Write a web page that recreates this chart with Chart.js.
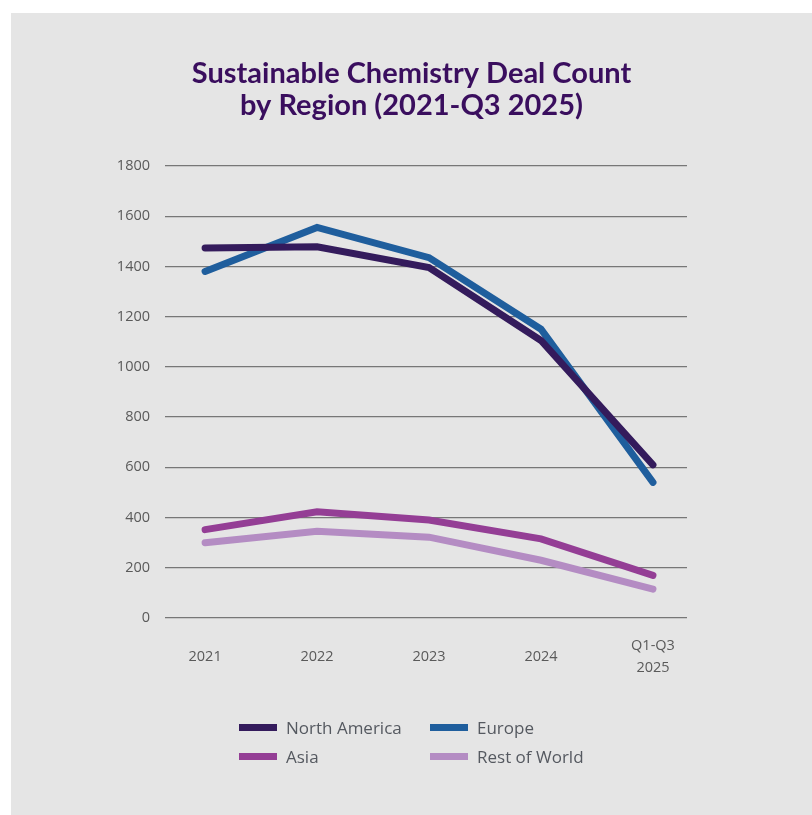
<!DOCTYPE html>
<html>
<head>
<meta charset="utf-8">
<script src="https://cdn.jsdelivr.net/npm/chart.js@4.4.1/dist/chart.umd.min.js"></script>
<style>
  html, body { margin: 0; padding: 0; background: #fff; }
  body { width: 812px; height: 815px; position: relative; overflow: hidden; }
  #panel { position: absolute; left: 11px; top: 13px; width: 801px; height: 802px; background: #e5e5e5; }
  #chart { position: absolute; left: 0; top: 0; }
  #legend { position: absolute; left: 228px; top: 704px; display: grid; grid-template-columns: 191px 200px; row-gap: 8px;
            font-family: "Open Sans", sans-serif; font-size: 17px; color: #555960; }
  #legend div { display: flex; align-items: center; height: 21px; }
  #legend span.box { display: inline-block; width: 38px; height: 7px; margin-right: 9px; }
</style>
</head>
<body>
<div id="panel">
  <canvas id="chart" width="801" height="802"></canvas>
  <div id="legend"></div>
</div>
<script>
// data
const years = ["2021", "2022", "2023", "2024", ["Q1-Q3", "2025"]]
const northAmerica = [1473, 1478, 1395, 1105, 610]
const europe = [1380, 1555, 1435, 1150, 540]
const asia = [352, 423, 390, 315, 170]
const restOfWorld = [300, 345, 322, 230, 115]
const yTicks = [0, 200, 400, 600, 800, 1000, 1200, 1400, 1600, 1800]

const toPoints = arr => arr.map((v, i) => ({x: i, y: v}))

const series = [
  {label: "North America", data: northAmerica, color: "#341b5c"},
  {label: "Europe", data: europe, color: "#1f5e9d"},
  {label: "Asia", data: asia, color: "#943e95"},
  {label: "Rest of World", data: restOfWorld, color: "#b48cc3"},
]

const tickFont = {family: "Open Sans", size: 14.5, lineHeight: 1.5}

const ctx = document.getElementById('chart').getContext('2d')
const chart = new Chart(ctx, {
  type: 'line',
  data: {
    datasets: series.map(s => ({
      label: s.label,
      data: toPoints(s.data),
      borderColor: s.color,
      backgroundColor: s.color,
      borderWidth: 7,
      borderCapStyle: 'round',
      pointRadius: 0,
      tension: 0,
    }))
  },
  options: {
    responsive: false,
    animation: false,
    layout: {padding: {left: 0, right: 0, top: 0, bottom: 137}},
    plugins: {
      legend: {display: false},
      tooltip: {enabled: false},
      title: {
        display: true,
        text: ["Sustainable Chemistry Deal Count", "by Region (2021-Q3 2025)"],
        color: "#3a0e5e",
        font: {family: "Lato", size: 29, weight: 'bold', lineHeight: 1.12},
        padding: {top: 44, bottom: 44},
      }
    },
    scales: {
      x: {
        type: 'linear',
        min: -0.358,
        max: 4.304,
        grid: {display: false, drawTicks: false},
        border: {display: false},
        afterBuildTicks: axis => { axis.ticks = years.map((_, i) => ({value: i})) },
        afterFit: axis => { axis.height = 60 },
        ticks: {
          color: "#5a5a5a",
          padding: 28,
          maxRotation: 0,
          crossAlign: 'center',
          font: tickFont,
          callback: v => years[v],
        }
      },
      y: {
        min: 0,
        max: 1800,
        afterBuildTicks: axis => { axis.ticks = yTicks.map(v => ({value: v})) },
        afterFit: axis => { axis.width = 154 },
        grid: {color: "#777777", lineWidth: 1.3, drawTicks: false},
        border: {display: false},
        ticks: {
          color: "#5a5a5a",
          padding: 15,
          font: tickFont,
          callback: v => String(v),
        }
      },
      // empty right-hand axis so the plot stops short of the panel edge
      // while the title stays centred on the whole panel
      spacer: {
        type: 'linear',
        position: 'right',
        grid: {display: false, drawTicks: false},
        border: {display: false},
        ticks: {display: false},
        afterFit: axis => { axis.width = 125 },
      }
    }
  }
})

// two-column legend built from the chart's datasets
const legend = document.getElementById('legend')
chart.data.datasets.forEach(ds => {
  const item = document.createElement('div')
  item.innerHTML = '<span class="box" style="background:' + ds.borderColor + '"></span>' + ds.label
  legend.appendChild(item)
})
</script>
</body>
</html>
